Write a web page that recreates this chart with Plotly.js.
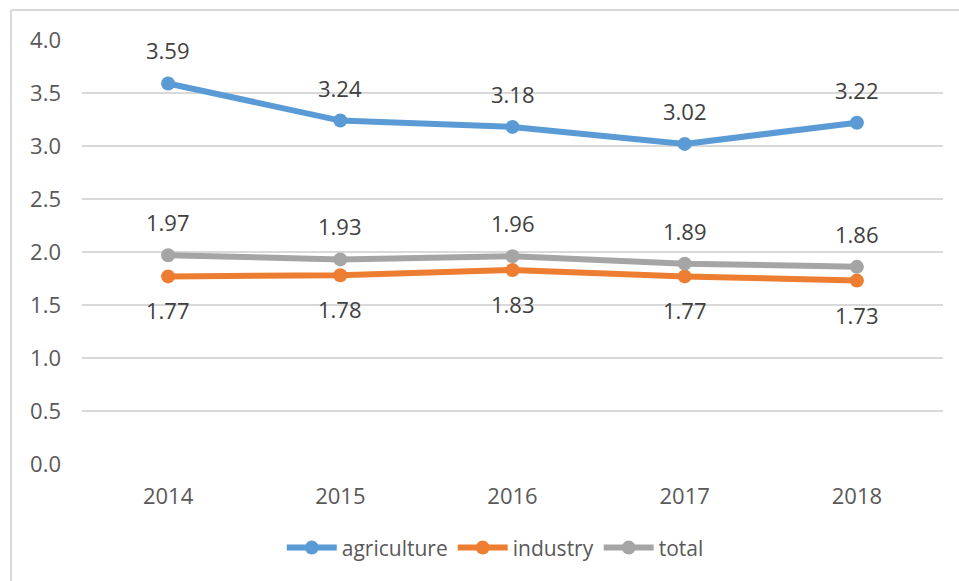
<!DOCTYPE html>
<html>
<head>
<meta charset="utf-8">
<script src="https://cdn.plot.ly/plotly-3.0.1.min.js"></script>
<style>html,body{margin:0;padding:0;background:#fff;}#chart{width:959px;height:581px;}</style>
</head>
<body>
<div id="chart"></div>
<script>
var years = ['2014', '2015', '2016', '2017', '2018'];
var agriculture = [3.59, 3.24, 3.18, 3.02, 3.22];
var industry = [1.77, 1.78, 1.83, 1.77, 1.73];
var total = [1.97, 1.93, 1.96, 1.89, 1.86];
var yTicks = [0, 0.5, 1, 1.5, 2, 2.5, 3, 3.5, 4];

var FONT = 'Open Sans, Noto Sans, sans-serif';
var TXT = '#595959';

function series(name, vals, color) {
  return {
    type: 'scatter', mode: 'lines+markers', name: name,
    x: years, y: vals,
    line: {color: color, width: 6},
    marker: {color: color, size: 14},
    hoverinfo: 'skip'
  };
}

var traces = [
  series('agriculture', agriculture, '#5B9BD5'),
  series('industry', industry, '#ED7D31'),
  series('total', total, '#A5A5A5')
];

var annotations = [];
function labels(vals, shift) {
  vals.forEach(function (v, i) {
    annotations.push({
      x: i, y: v, xref: 'x', yref: 'y',
      text: v.toFixed(2), showarrow: false, yshift: shift,
      font: {family: FONT, size: 22, color: '#404040'}
    });
  });
}
labels(agriculture, 33);
labels(total, 33);
labels(industry, -34);

var layout = {
  width: 959, height: 581,
  margin: {l: 82, r: 16, t: 40, b: 117},
  paper_bgcolor: '#fff', plot_bgcolor: '#fff',
  font: {family: FONT, size: 22, color: TXT},
  showlegend: true,
  legend: {
    orientation: 'h', x: 0.48, xanchor: 'center', y: -0.198, yanchor: 'middle',
    font: {family: FONT, size: 21, color: TXT}, itemwidth: 50, tracegroupgap: 0
  },
  xaxis: {
    type: 'category', range: [-0.5, 4.5], showgrid: false, zeroline: false,
    showline: false, ticks: '', ticklabelstandoff: 17,
    tickfont: {family: FONT, size: 22, color: TXT}
  },
  yaxis: {
    range: [0, 4], tickvals: yTicks, ticktext: yTicks.map(function (v) { return v.toFixed(1); }),
    showgrid: true, gridcolor: '#D9D9D9', gridwidth: 1.5, zeroline: false,
    showline: false, ticks: '', ticklabelstandoff: 20,
    tickfont: {family: FONT, size: 22, color: TXT}
  },
  annotations: annotations,
  shapes: [
    {type: 'line', xref: 'paper', yref: 'paper', x0: -0.0825, x1: 1.02, y0: 1.071, y1: 1.071,
     line: {color: '#D9D9D9', width: 2}},
    {type: 'line', xref: 'paper', yref: 'paper', x0: -0.0825, x1: -0.0825, y0: 1.071, y1: -0.28,
     line: {color: '#D9D9D9', width: 2}}
  ]
};

Plotly.newPlot('chart', traces, layout, {displayModeBar: false, staticPlot: true});
</script>
</body>
</html>
